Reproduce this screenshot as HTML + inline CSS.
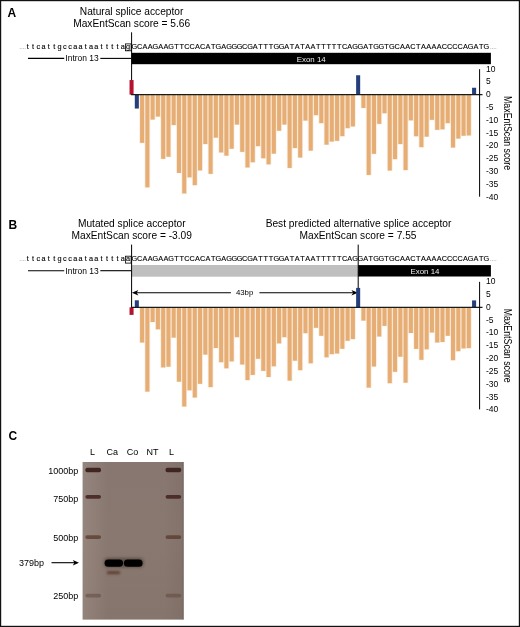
<!DOCTYPE html>
<html><head><meta charset="utf-8"><title>Figure</title>
<style>
html,body{margin:0;padding:0;background:#fff;}
body{width:520px;height:627px;overflow:hidden;position:relative;font-family:"Liberation Sans",sans-serif;}
</style></head><body>
<svg width="520" height="627" viewBox="0 0 520 627" style="position:absolute;left:0;top:0;opacity:0.999">
<rect x="0" y="0" width="520" height="627" fill="#fff"/>
<text x="19.2" y="49.15" font-size="6.2" fill="#555" font-family="Liberation Sans, sans-serif">....</text>
<text x="27.79" y="49.15" font-size="7.3" text-anchor="middle" stroke="#000" stroke-width="0.12" font-family="Liberation Sans, sans-serif">t</text>
<text x="33.07" y="49.15" font-size="7.3" text-anchor="middle" stroke="#000" stroke-width="0.12" font-family="Liberation Sans, sans-serif">t</text>
<text x="38.34" y="49.15" font-size="7.3" text-anchor="middle" stroke="#000" stroke-width="0.12" font-family="Liberation Sans, sans-serif">c</text>
<text x="43.62" y="49.15" font-size="7.3" text-anchor="middle" stroke="#000" stroke-width="0.12" font-family="Liberation Sans, sans-serif">a</text>
<text x="48.89" y="49.15" font-size="7.3" text-anchor="middle" stroke="#000" stroke-width="0.12" font-family="Liberation Sans, sans-serif">t</text>
<text x="54.16" y="49.15" font-size="7.3" text-anchor="middle" stroke="#000" stroke-width="0.12" font-family="Liberation Sans, sans-serif">t</text>
<text x="59.44" y="49.15" font-size="7.3" text-anchor="middle" stroke="#000" stroke-width="0.12" font-family="Liberation Sans, sans-serif">g</text>
<text x="64.71" y="49.15" font-size="7.3" text-anchor="middle" stroke="#000" stroke-width="0.12" font-family="Liberation Sans, sans-serif">c</text>
<text x="69.99" y="49.15" font-size="7.3" text-anchor="middle" stroke="#000" stroke-width="0.12" font-family="Liberation Sans, sans-serif">c</text>
<text x="75.26" y="49.15" font-size="7.3" text-anchor="middle" stroke="#000" stroke-width="0.12" font-family="Liberation Sans, sans-serif">a</text>
<text x="80.53" y="49.15" font-size="7.3" text-anchor="middle" stroke="#000" stroke-width="0.12" font-family="Liberation Sans, sans-serif">a</text>
<text x="85.81" y="49.15" font-size="7.3" text-anchor="middle" stroke="#000" stroke-width="0.12" font-family="Liberation Sans, sans-serif">t</text>
<text x="91.08" y="49.15" font-size="7.3" text-anchor="middle" stroke="#000" stroke-width="0.12" font-family="Liberation Sans, sans-serif">a</text>
<text x="96.36" y="49.15" font-size="7.3" text-anchor="middle" stroke="#000" stroke-width="0.12" font-family="Liberation Sans, sans-serif">a</text>
<text x="101.63" y="49.15" font-size="7.3" text-anchor="middle" stroke="#000" stroke-width="0.12" font-family="Liberation Sans, sans-serif">t</text>
<text x="106.90" y="49.15" font-size="7.3" text-anchor="middle" stroke="#000" stroke-width="0.12" font-family="Liberation Sans, sans-serif">t</text>
<text x="112.18" y="49.15" font-size="7.3" text-anchor="middle" stroke="#000" stroke-width="0.12" font-family="Liberation Sans, sans-serif">t</text>
<text x="117.45" y="49.15" font-size="7.3" text-anchor="middle" stroke="#000" stroke-width="0.12" font-family="Liberation Sans, sans-serif">t</text>
<text x="122.73" y="49.15" font-size="7.3" text-anchor="middle" stroke="#000" stroke-width="0.12" font-family="Liberation Sans, sans-serif">a</text>
<text x="128.00" y="49.15" font-size="7.3" text-anchor="middle" stroke="#000" stroke-width="0.12" font-family="Liberation Sans, sans-serif">g</text>
<text x="134.40" y="49.15" font-size="7.3" text-anchor="middle" stroke="#000" stroke-width="0.12" font-family="Liberation Sans, sans-serif">G</text>
<text x="139.65" y="49.15" font-size="7.3" text-anchor="middle" stroke="#000" stroke-width="0.12" font-family="Liberation Sans, sans-serif">C</text>
<text x="144.91" y="49.15" font-size="7.3" text-anchor="middle" stroke="#000" stroke-width="0.12" font-family="Liberation Sans, sans-serif">A</text>
<text x="150.16" y="49.15" font-size="7.3" text-anchor="middle" stroke="#000" stroke-width="0.12" font-family="Liberation Sans, sans-serif">A</text>
<text x="155.42" y="49.15" font-size="7.3" text-anchor="middle" stroke="#000" stroke-width="0.12" font-family="Liberation Sans, sans-serif">G</text>
<text x="160.67" y="49.15" font-size="7.3" text-anchor="middle" stroke="#000" stroke-width="0.12" font-family="Liberation Sans, sans-serif">A</text>
<text x="165.92" y="49.15" font-size="7.3" text-anchor="middle" stroke="#000" stroke-width="0.12" font-family="Liberation Sans, sans-serif">A</text>
<text x="171.18" y="49.15" font-size="7.3" text-anchor="middle" stroke="#000" stroke-width="0.12" font-family="Liberation Sans, sans-serif">G</text>
<text x="176.43" y="49.15" font-size="7.3" text-anchor="middle" stroke="#000" stroke-width="0.12" font-family="Liberation Sans, sans-serif">T</text>
<text x="181.69" y="49.15" font-size="7.3" text-anchor="middle" stroke="#000" stroke-width="0.12" font-family="Liberation Sans, sans-serif">T</text>
<text x="186.94" y="49.15" font-size="7.3" text-anchor="middle" stroke="#000" stroke-width="0.12" font-family="Liberation Sans, sans-serif">C</text>
<text x="192.19" y="49.15" font-size="7.3" text-anchor="middle" stroke="#000" stroke-width="0.12" font-family="Liberation Sans, sans-serif">C</text>
<text x="197.45" y="49.15" font-size="7.3" text-anchor="middle" stroke="#000" stroke-width="0.12" font-family="Liberation Sans, sans-serif">A</text>
<text x="202.70" y="49.15" font-size="7.3" text-anchor="middle" stroke="#000" stroke-width="0.12" font-family="Liberation Sans, sans-serif">C</text>
<text x="207.96" y="49.15" font-size="7.3" text-anchor="middle" stroke="#000" stroke-width="0.12" font-family="Liberation Sans, sans-serif">A</text>
<text x="213.21" y="49.15" font-size="7.3" text-anchor="middle" stroke="#000" stroke-width="0.12" font-family="Liberation Sans, sans-serif">T</text>
<text x="218.46" y="49.15" font-size="7.3" text-anchor="middle" stroke="#000" stroke-width="0.12" font-family="Liberation Sans, sans-serif">G</text>
<text x="223.72" y="49.15" font-size="7.3" text-anchor="middle" stroke="#000" stroke-width="0.12" font-family="Liberation Sans, sans-serif">A</text>
<text x="228.97" y="49.15" font-size="7.3" text-anchor="middle" stroke="#000" stroke-width="0.12" font-family="Liberation Sans, sans-serif">G</text>
<text x="234.23" y="49.15" font-size="7.3" text-anchor="middle" stroke="#000" stroke-width="0.12" font-family="Liberation Sans, sans-serif">G</text>
<text x="239.48" y="49.15" font-size="7.3" text-anchor="middle" stroke="#000" stroke-width="0.12" font-family="Liberation Sans, sans-serif">G</text>
<text x="244.73" y="49.15" font-size="7.3" text-anchor="middle" stroke="#000" stroke-width="0.12" font-family="Liberation Sans, sans-serif">C</text>
<text x="249.99" y="49.15" font-size="7.3" text-anchor="middle" stroke="#000" stroke-width="0.12" font-family="Liberation Sans, sans-serif">G</text>
<text x="255.24" y="49.15" font-size="7.3" text-anchor="middle" stroke="#000" stroke-width="0.12" font-family="Liberation Sans, sans-serif">A</text>
<text x="260.50" y="49.15" font-size="7.3" text-anchor="middle" stroke="#000" stroke-width="0.12" font-family="Liberation Sans, sans-serif">T</text>
<text x="265.75" y="49.15" font-size="7.3" text-anchor="middle" stroke="#000" stroke-width="0.12" font-family="Liberation Sans, sans-serif">T</text>
<text x="271.00" y="49.15" font-size="7.3" text-anchor="middle" stroke="#000" stroke-width="0.12" font-family="Liberation Sans, sans-serif">T</text>
<text x="276.26" y="49.15" font-size="7.3" text-anchor="middle" stroke="#000" stroke-width="0.12" font-family="Liberation Sans, sans-serif">G</text>
<text x="281.51" y="49.15" font-size="7.3" text-anchor="middle" stroke="#000" stroke-width="0.12" font-family="Liberation Sans, sans-serif">G</text>
<text x="286.77" y="49.15" font-size="7.3" text-anchor="middle" stroke="#000" stroke-width="0.12" font-family="Liberation Sans, sans-serif">A</text>
<text x="292.02" y="49.15" font-size="7.3" text-anchor="middle" stroke="#000" stroke-width="0.12" font-family="Liberation Sans, sans-serif">T</text>
<text x="297.27" y="49.15" font-size="7.3" text-anchor="middle" stroke="#000" stroke-width="0.12" font-family="Liberation Sans, sans-serif">A</text>
<text x="302.53" y="49.15" font-size="7.3" text-anchor="middle" stroke="#000" stroke-width="0.12" font-family="Liberation Sans, sans-serif">T</text>
<text x="307.78" y="49.15" font-size="7.3" text-anchor="middle" stroke="#000" stroke-width="0.12" font-family="Liberation Sans, sans-serif">A</text>
<text x="313.04" y="49.15" font-size="7.3" text-anchor="middle" stroke="#000" stroke-width="0.12" font-family="Liberation Sans, sans-serif">A</text>
<text x="318.29" y="49.15" font-size="7.3" text-anchor="middle" stroke="#000" stroke-width="0.12" font-family="Liberation Sans, sans-serif">T</text>
<text x="323.54" y="49.15" font-size="7.3" text-anchor="middle" stroke="#000" stroke-width="0.12" font-family="Liberation Sans, sans-serif">T</text>
<text x="328.80" y="49.15" font-size="7.3" text-anchor="middle" stroke="#000" stroke-width="0.12" font-family="Liberation Sans, sans-serif">T</text>
<text x="334.05" y="49.15" font-size="7.3" text-anchor="middle" stroke="#000" stroke-width="0.12" font-family="Liberation Sans, sans-serif">T</text>
<text x="339.31" y="49.15" font-size="7.3" text-anchor="middle" stroke="#000" stroke-width="0.12" font-family="Liberation Sans, sans-serif">T</text>
<text x="344.56" y="49.15" font-size="7.3" text-anchor="middle" stroke="#000" stroke-width="0.12" font-family="Liberation Sans, sans-serif">C</text>
<text x="349.81" y="49.15" font-size="7.3" text-anchor="middle" stroke="#000" stroke-width="0.12" font-family="Liberation Sans, sans-serif">A</text>
<text x="355.07" y="49.15" font-size="7.3" text-anchor="middle" stroke="#000" stroke-width="0.12" font-family="Liberation Sans, sans-serif">G</text>
<text x="360.32" y="49.15" font-size="7.3" text-anchor="middle" stroke="#000" stroke-width="0.12" font-family="Liberation Sans, sans-serif">G</text>
<text x="365.58" y="49.15" font-size="7.3" text-anchor="middle" stroke="#000" stroke-width="0.12" font-family="Liberation Sans, sans-serif">A</text>
<text x="370.83" y="49.15" font-size="7.3" text-anchor="middle" stroke="#000" stroke-width="0.12" font-family="Liberation Sans, sans-serif">T</text>
<text x="376.08" y="49.15" font-size="7.3" text-anchor="middle" stroke="#000" stroke-width="0.12" font-family="Liberation Sans, sans-serif">G</text>
<text x="381.34" y="49.15" font-size="7.3" text-anchor="middle" stroke="#000" stroke-width="0.12" font-family="Liberation Sans, sans-serif">G</text>
<text x="386.59" y="49.15" font-size="7.3" text-anchor="middle" stroke="#000" stroke-width="0.12" font-family="Liberation Sans, sans-serif">T</text>
<text x="391.85" y="49.15" font-size="7.3" text-anchor="middle" stroke="#000" stroke-width="0.12" font-family="Liberation Sans, sans-serif">G</text>
<text x="397.10" y="49.15" font-size="7.3" text-anchor="middle" stroke="#000" stroke-width="0.12" font-family="Liberation Sans, sans-serif">C</text>
<text x="402.35" y="49.15" font-size="7.3" text-anchor="middle" stroke="#000" stroke-width="0.12" font-family="Liberation Sans, sans-serif">A</text>
<text x="407.61" y="49.15" font-size="7.3" text-anchor="middle" stroke="#000" stroke-width="0.12" font-family="Liberation Sans, sans-serif">A</text>
<text x="412.86" y="49.15" font-size="7.3" text-anchor="middle" stroke="#000" stroke-width="0.12" font-family="Liberation Sans, sans-serif">C</text>
<text x="418.12" y="49.15" font-size="7.3" text-anchor="middle" stroke="#000" stroke-width="0.12" font-family="Liberation Sans, sans-serif">T</text>
<text x="423.37" y="49.15" font-size="7.3" text-anchor="middle" stroke="#000" stroke-width="0.12" font-family="Liberation Sans, sans-serif">A</text>
<text x="428.62" y="49.15" font-size="7.3" text-anchor="middle" stroke="#000" stroke-width="0.12" font-family="Liberation Sans, sans-serif">A</text>
<text x="433.88" y="49.15" font-size="7.3" text-anchor="middle" stroke="#000" stroke-width="0.12" font-family="Liberation Sans, sans-serif">A</text>
<text x="439.13" y="49.15" font-size="7.3" text-anchor="middle" stroke="#000" stroke-width="0.12" font-family="Liberation Sans, sans-serif">A</text>
<text x="444.39" y="49.15" font-size="7.3" text-anchor="middle" stroke="#000" stroke-width="0.12" font-family="Liberation Sans, sans-serif">C</text>
<text x="449.64" y="49.15" font-size="7.3" text-anchor="middle" stroke="#000" stroke-width="0.12" font-family="Liberation Sans, sans-serif">C</text>
<text x="454.89" y="49.15" font-size="7.3" text-anchor="middle" stroke="#000" stroke-width="0.12" font-family="Liberation Sans, sans-serif">C</text>
<text x="460.15" y="49.15" font-size="7.3" text-anchor="middle" stroke="#000" stroke-width="0.12" font-family="Liberation Sans, sans-serif">C</text>
<text x="465.40" y="49.15" font-size="7.3" text-anchor="middle" stroke="#000" stroke-width="0.12" font-family="Liberation Sans, sans-serif">A</text>
<text x="470.66" y="49.15" font-size="7.3" text-anchor="middle" stroke="#000" stroke-width="0.12" font-family="Liberation Sans, sans-serif">G</text>
<text x="475.91" y="49.15" font-size="7.3" text-anchor="middle" stroke="#000" stroke-width="0.12" font-family="Liberation Sans, sans-serif">A</text>
<text x="481.16" y="49.15" font-size="7.3" text-anchor="middle" stroke="#000" stroke-width="0.12" font-family="Liberation Sans, sans-serif">T</text>
<text x="486.42" y="49.15" font-size="7.3" text-anchor="middle" stroke="#000" stroke-width="0.12" font-family="Liberation Sans, sans-serif">G</text>
<text x="489.9" y="49.15" font-size="6.2" fill="#555" font-family="Liberation Sans, sans-serif">....</text>
<rect x="125.5" y="43.9" width="5.6" height="6.9" fill="none" stroke="#000" stroke-width="0.8"/>
<line x1="28" y1="58.4" x2="64.2" y2="58.4" stroke="#000" stroke-width="1.1"/>
<line x1="100.3" y1="58.4" x2="131.6" y2="58.4" stroke="#000" stroke-width="1.1"/>
<text x="82" y="61.2" font-size="8.45" text-anchor="middle" font-family="Liberation Sans, sans-serif">Intron 13</text>
<rect x="131.6" y="52.8" width="359.3" height="11.4" fill="#000"/>
<text x="311.2" y="62.0" font-size="7.9" fill="#eee" text-anchor="middle" font-family="Liberation Sans, sans-serif">Exon 14</text>
<line x1="131.6" y1="32.3" x2="131.6" y2="94.65" stroke="#000" stroke-width="1"/>
<rect x="139.24" y="94.65" width="5.7" height="48.6" fill="#e6ae74" opacity="0.22"/>
<rect x="144.51" y="94.65" width="5.7" height="93.1" fill="#e6ae74" opacity="0.22"/>
<rect x="149.78" y="94.65" width="5.7" height="25.3" fill="#e6ae74" opacity="0.22"/>
<rect x="155.05" y="94.65" width="5.7" height="22.3" fill="#e6ae74" opacity="0.22"/>
<rect x="160.32" y="94.65" width="5.7" height="64.6" fill="#e6ae74" opacity="0.22"/>
<rect x="165.59" y="94.65" width="5.7" height="62.5" fill="#e6ae74" opacity="0.22"/>
<rect x="170.86" y="94.65" width="5.7" height="30.8" fill="#e6ae74" opacity="0.22"/>
<rect x="176.13" y="94.65" width="5.7" height="78.7" fill="#e6ae74" opacity="0.22"/>
<rect x="181.40" y="94.65" width="5.7" height="99.2" fill="#e6ae74" opacity="0.22"/>
<rect x="186.67" y="94.65" width="5.7" height="83.1" fill="#e6ae74" opacity="0.22"/>
<rect x="191.94" y="94.65" width="5.7" height="90.9" fill="#e6ae74" opacity="0.22"/>
<rect x="197.21" y="94.65" width="5.7" height="76.2" fill="#e6ae74" opacity="0.22"/>
<rect x="202.48" y="94.65" width="5.7" height="49.8" fill="#e6ae74" opacity="0.22"/>
<rect x="207.75" y="94.65" width="5.7" height="79.6" fill="#e6ae74" opacity="0.22"/>
<rect x="213.02" y="94.65" width="5.7" height="43.4" fill="#e6ae74" opacity="0.22"/>
<rect x="218.29" y="94.65" width="5.7" height="58.2" fill="#e6ae74" opacity="0.22"/>
<rect x="223.56" y="94.65" width="5.7" height="61.4" fill="#e6ae74" opacity="0.22"/>
<rect x="228.83" y="94.65" width="5.7" height="54.5" fill="#e6ae74" opacity="0.22"/>
<rect x="234.10" y="94.65" width="5.7" height="30.3" fill="#e6ae74" opacity="0.22"/>
<rect x="239.37" y="94.65" width="5.7" height="57.6" fill="#e6ae74" opacity="0.22"/>
<rect x="244.64" y="94.65" width="5.7" height="73.2" fill="#e6ae74" opacity="0.22"/>
<rect x="249.91" y="94.65" width="5.7" height="68.0" fill="#e6ae74" opacity="0.22"/>
<rect x="255.18" y="94.65" width="5.7" height="51.9" fill="#e6ae74" opacity="0.22"/>
<rect x="260.45" y="94.65" width="5.7" height="64.0" fill="#e6ae74" opacity="0.22"/>
<rect x="265.72" y="94.65" width="5.7" height="70.1" fill="#e6ae74" opacity="0.22"/>
<rect x="270.99" y="94.65" width="5.7" height="59.4" fill="#e6ae74" opacity="0.22"/>
<rect x="276.26" y="94.65" width="5.7" height="36.5" fill="#e6ae74" opacity="0.22"/>
<rect x="281.53" y="94.65" width="5.7" height="30.3" fill="#e6ae74" opacity="0.22"/>
<rect x="286.80" y="94.65" width="5.7" height="73.7" fill="#e6ae74" opacity="0.22"/>
<rect x="292.07" y="94.65" width="5.7" height="53.8" fill="#e6ae74" opacity="0.22"/>
<rect x="297.34" y="94.65" width="5.7" height="63.3" fill="#e6ae74" opacity="0.22"/>
<rect x="302.61" y="94.65" width="5.7" height="26.3" fill="#e6ae74" opacity="0.22"/>
<rect x="307.88" y="94.65" width="5.7" height="56.4" fill="#e6ae74" opacity="0.22"/>
<rect x="313.15" y="94.65" width="5.7" height="20.9" fill="#e6ae74" opacity="0.22"/>
<rect x="318.42" y="94.65" width="5.7" height="28.9" fill="#e6ae74" opacity="0.22"/>
<rect x="323.69" y="94.65" width="5.7" height="50.4" fill="#e6ae74" opacity="0.22"/>
<rect x="328.96" y="94.65" width="5.7" height="47.3" fill="#e6ae74" opacity="0.22"/>
<rect x="334.23" y="94.65" width="5.7" height="46.6" fill="#e6ae74" opacity="0.22"/>
<rect x="339.50" y="94.65" width="5.7" height="41.9" fill="#e6ae74" opacity="0.22"/>
<rect x="344.77" y="94.65" width="5.7" height="33.9" fill="#e6ae74" opacity="0.22"/>
<rect x="350.04" y="94.65" width="5.7" height="32.2" fill="#e6ae74" opacity="0.22"/>
<rect x="360.58" y="94.65" width="5.7" height="13.7" fill="#e6ae74" opacity="0.22"/>
<rect x="365.85" y="94.65" width="5.7" height="80.7" fill="#e6ae74" opacity="0.22"/>
<rect x="371.12" y="94.65" width="5.7" height="59.6" fill="#e6ae74" opacity="0.22"/>
<rect x="376.39" y="94.65" width="5.7" height="29.6" fill="#e6ae74" opacity="0.22"/>
<rect x="381.66" y="94.65" width="5.7" height="19.0" fill="#e6ae74" opacity="0.22"/>
<rect x="386.93" y="94.65" width="5.7" height="76.3" fill="#e6ae74" opacity="0.22"/>
<rect x="392.20" y="94.65" width="5.7" height="64.9" fill="#e6ae74" opacity="0.22"/>
<rect x="397.47" y="94.65" width="5.7" height="49.8" fill="#e6ae74" opacity="0.22"/>
<rect x="402.74" y="94.65" width="5.7" height="75.8" fill="#e6ae74" opacity="0.22"/>
<rect x="408.01" y="94.65" width="5.7" height="26.1" fill="#e6ae74" opacity="0.22"/>
<rect x="413.28" y="94.65" width="5.7" height="42.0" fill="#e6ae74" opacity="0.22"/>
<rect x="418.55" y="94.65" width="5.7" height="52.9" fill="#e6ae74" opacity="0.22"/>
<rect x="423.82" y="94.65" width="5.7" height="42.4" fill="#e6ae74" opacity="0.22"/>
<rect x="429.09" y="94.65" width="5.7" height="25.6" fill="#e6ae74" opacity="0.22"/>
<rect x="434.36" y="94.65" width="5.7" height="35.6" fill="#e6ae74" opacity="0.22"/>
<rect x="439.63" y="94.65" width="5.7" height="35.1" fill="#e6ae74" opacity="0.22"/>
<rect x="444.90" y="94.65" width="5.7" height="28.9" fill="#e6ae74" opacity="0.22"/>
<rect x="450.17" y="94.65" width="5.7" height="53.3" fill="#e6ae74" opacity="0.22"/>
<rect x="455.44" y="94.65" width="5.7" height="44.3" fill="#e6ae74" opacity="0.22"/>
<rect x="460.71" y="94.65" width="5.7" height="41.5" fill="#e6ae74" opacity="0.22"/>
<rect x="465.98" y="94.65" width="5.7" height="41.2" fill="#e6ae74" opacity="0.22"/>
<rect x="140.06" y="94.65" width="4.05" height="48.2" fill="#e6ae74"/>
<rect x="145.34" y="94.65" width="4.05" height="92.7" fill="#e6ae74"/>
<rect x="150.60" y="94.65" width="4.05" height="24.9" fill="#e6ae74"/>
<rect x="155.88" y="94.65" width="4.05" height="21.9" fill="#e6ae74"/>
<rect x="161.15" y="94.65" width="4.05" height="64.2" fill="#e6ae74"/>
<rect x="166.41" y="94.65" width="4.05" height="62.1" fill="#e6ae74"/>
<rect x="171.69" y="94.65" width="4.05" height="30.4" fill="#e6ae74"/>
<rect x="176.96" y="94.65" width="4.05" height="78.3" fill="#e6ae74"/>
<rect x="182.22" y="94.65" width="4.05" height="98.8" fill="#e6ae74"/>
<rect x="187.50" y="94.65" width="4.05" height="82.7" fill="#e6ae74"/>
<rect x="192.77" y="94.65" width="4.05" height="90.5" fill="#e6ae74"/>
<rect x="198.03" y="94.65" width="4.05" height="75.8" fill="#e6ae74"/>
<rect x="203.31" y="94.65" width="4.05" height="49.4" fill="#e6ae74"/>
<rect x="208.58" y="94.65" width="4.05" height="79.2" fill="#e6ae74"/>
<rect x="213.84" y="94.65" width="4.05" height="43.0" fill="#e6ae74"/>
<rect x="219.11" y="94.65" width="4.05" height="57.8" fill="#e6ae74"/>
<rect x="224.38" y="94.65" width="4.05" height="61.0" fill="#e6ae74"/>
<rect x="229.66" y="94.65" width="4.05" height="54.1" fill="#e6ae74"/>
<rect x="234.92" y="94.65" width="4.05" height="29.9" fill="#e6ae74"/>
<rect x="240.19" y="94.65" width="4.05" height="57.2" fill="#e6ae74"/>
<rect x="245.47" y="94.65" width="4.05" height="72.8" fill="#e6ae74"/>
<rect x="250.73" y="94.65" width="4.05" height="67.6" fill="#e6ae74"/>
<rect x="256.00" y="94.65" width="4.05" height="51.5" fill="#e6ae74"/>
<rect x="261.28" y="94.65" width="4.05" height="63.6" fill="#e6ae74"/>
<rect x="266.55" y="94.65" width="4.05" height="69.7" fill="#e6ae74"/>
<rect x="271.82" y="94.65" width="4.05" height="59.0" fill="#e6ae74"/>
<rect x="277.09" y="94.65" width="4.05" height="36.1" fill="#e6ae74"/>
<rect x="282.36" y="94.65" width="4.05" height="29.9" fill="#e6ae74"/>
<rect x="287.62" y="94.65" width="4.05" height="73.3" fill="#e6ae74"/>
<rect x="292.89" y="94.65" width="4.05" height="53.4" fill="#e6ae74"/>
<rect x="298.17" y="94.65" width="4.05" height="62.9" fill="#e6ae74"/>
<rect x="303.44" y="94.65" width="4.05" height="25.9" fill="#e6ae74"/>
<rect x="308.71" y="94.65" width="4.05" height="56.0" fill="#e6ae74"/>
<rect x="313.98" y="94.65" width="4.05" height="20.5" fill="#e6ae74"/>
<rect x="319.25" y="94.65" width="4.05" height="28.5" fill="#e6ae74"/>
<rect x="324.51" y="94.65" width="4.05" height="50.0" fill="#e6ae74"/>
<rect x="329.79" y="94.65" width="4.05" height="46.9" fill="#e6ae74"/>
<rect x="335.06" y="94.65" width="4.05" height="46.2" fill="#e6ae74"/>
<rect x="340.33" y="94.65" width="4.05" height="41.5" fill="#e6ae74"/>
<rect x="345.60" y="94.65" width="4.05" height="33.5" fill="#e6ae74"/>
<rect x="350.87" y="94.65" width="4.05" height="31.8" fill="#e6ae74"/>
<rect x="361.41" y="94.65" width="4.05" height="13.3" fill="#e6ae74"/>
<rect x="366.68" y="94.65" width="4.05" height="80.3" fill="#e6ae74"/>
<rect x="371.95" y="94.65" width="4.05" height="59.2" fill="#e6ae74"/>
<rect x="377.22" y="94.65" width="4.05" height="29.2" fill="#e6ae74"/>
<rect x="382.49" y="94.65" width="4.05" height="18.6" fill="#e6ae74"/>
<rect x="387.75" y="94.65" width="4.05" height="75.9" fill="#e6ae74"/>
<rect x="393.03" y="94.65" width="4.05" height="64.5" fill="#e6ae74"/>
<rect x="398.30" y="94.65" width="4.05" height="49.4" fill="#e6ae74"/>
<rect x="403.56" y="94.65" width="4.05" height="75.4" fill="#e6ae74"/>
<rect x="408.84" y="94.65" width="4.05" height="25.7" fill="#e6ae74"/>
<rect x="414.11" y="94.65" width="4.05" height="41.6" fill="#e6ae74"/>
<rect x="419.38" y="94.65" width="4.05" height="52.5" fill="#e6ae74"/>
<rect x="424.65" y="94.65" width="4.05" height="42.0" fill="#e6ae74"/>
<rect x="429.92" y="94.65" width="4.05" height="25.2" fill="#e6ae74"/>
<rect x="435.19" y="94.65" width="4.05" height="35.2" fill="#e6ae74"/>
<rect x="440.45" y="94.65" width="4.05" height="34.7" fill="#e6ae74"/>
<rect x="445.73" y="94.65" width="4.05" height="28.5" fill="#e6ae74"/>
<rect x="451.00" y="94.65" width="4.05" height="52.9" fill="#e6ae74"/>
<rect x="456.26" y="94.65" width="4.05" height="43.9" fill="#e6ae74"/>
<rect x="461.54" y="94.65" width="4.05" height="41.1" fill="#e6ae74"/>
<rect x="466.81" y="94.65" width="4.05" height="40.8" fill="#e6ae74"/>
<rect x="129.53" y="80.05" width="4.05" height="14.60" fill="#b5122f"/>
<rect x="134.80" y="94.65" width="4.05" height="13.90" fill="#253f7c"/>
<rect x="356.13" y="75.25" width="4.05" height="19.40" fill="#253f7c"/>
<rect x="472.07" y="87.75" width="4.05" height="6.90" fill="#253f7c"/>
<line x1="131.1" y1="94.65" x2="482.5" y2="94.65" stroke="#1a1a1a" stroke-width="1.15"/>
<line x1="479.6" y1="69.2" x2="479.6" y2="196.7" stroke="#000" stroke-width="1"/>
<text x="486" y="71.58" font-size="8.5" font-family="Liberation Sans, sans-serif">10</text>
<text x="486" y="84.39" font-size="8.5" font-family="Liberation Sans, sans-serif">5</text>
<text x="486" y="97.20" font-size="8.5" font-family="Liberation Sans, sans-serif">0</text>
<text x="486" y="110.01" font-size="8.5" font-family="Liberation Sans, sans-serif">-5</text>
<text x="486" y="122.83" font-size="8.5" font-family="Liberation Sans, sans-serif">-10</text>
<text x="486" y="135.64" font-size="8.5" font-family="Liberation Sans, sans-serif">-15</text>
<text x="486" y="148.45" font-size="8.5" font-family="Liberation Sans, sans-serif">-20</text>
<text x="486" y="161.26" font-size="8.5" font-family="Liberation Sans, sans-serif">-25</text>
<text x="486" y="174.07" font-size="8.5" font-family="Liberation Sans, sans-serif">-30</text>
<text x="486" y="186.89" font-size="8.5" font-family="Liberation Sans, sans-serif">-35</text>
<text x="486" y="199.70" font-size="8.5" font-family="Liberation Sans, sans-serif">-40</text>
<text transform="translate(504.35,96.0) rotate(90)" font-size="10.4" textLength="74.1" lengthAdjust="spacingAndGlyphs" font-family="Liberation Sans, sans-serif">MaxEntScan score</text>
<text x="19.2" y="261.45" font-size="6.2" fill="#555" font-family="Liberation Sans, sans-serif">....</text>
<text x="27.79" y="261.45" font-size="7.3" text-anchor="middle" stroke="#000" stroke-width="0.12" font-family="Liberation Sans, sans-serif">t</text>
<text x="33.07" y="261.45" font-size="7.3" text-anchor="middle" stroke="#000" stroke-width="0.12" font-family="Liberation Sans, sans-serif">t</text>
<text x="38.34" y="261.45" font-size="7.3" text-anchor="middle" stroke="#000" stroke-width="0.12" font-family="Liberation Sans, sans-serif">c</text>
<text x="43.62" y="261.45" font-size="7.3" text-anchor="middle" stroke="#000" stroke-width="0.12" font-family="Liberation Sans, sans-serif">a</text>
<text x="48.89" y="261.45" font-size="7.3" text-anchor="middle" stroke="#000" stroke-width="0.12" font-family="Liberation Sans, sans-serif">t</text>
<text x="54.16" y="261.45" font-size="7.3" text-anchor="middle" stroke="#000" stroke-width="0.12" font-family="Liberation Sans, sans-serif">t</text>
<text x="59.44" y="261.45" font-size="7.3" text-anchor="middle" stroke="#000" stroke-width="0.12" font-family="Liberation Sans, sans-serif">g</text>
<text x="64.71" y="261.45" font-size="7.3" text-anchor="middle" stroke="#000" stroke-width="0.12" font-family="Liberation Sans, sans-serif">c</text>
<text x="69.99" y="261.45" font-size="7.3" text-anchor="middle" stroke="#000" stroke-width="0.12" font-family="Liberation Sans, sans-serif">c</text>
<text x="75.26" y="261.45" font-size="7.3" text-anchor="middle" stroke="#000" stroke-width="0.12" font-family="Liberation Sans, sans-serif">a</text>
<text x="80.53" y="261.45" font-size="7.3" text-anchor="middle" stroke="#000" stroke-width="0.12" font-family="Liberation Sans, sans-serif">a</text>
<text x="85.81" y="261.45" font-size="7.3" text-anchor="middle" stroke="#000" stroke-width="0.12" font-family="Liberation Sans, sans-serif">t</text>
<text x="91.08" y="261.45" font-size="7.3" text-anchor="middle" stroke="#000" stroke-width="0.12" font-family="Liberation Sans, sans-serif">a</text>
<text x="96.36" y="261.45" font-size="7.3" text-anchor="middle" stroke="#000" stroke-width="0.12" font-family="Liberation Sans, sans-serif">a</text>
<text x="101.63" y="261.45" font-size="7.3" text-anchor="middle" stroke="#000" stroke-width="0.12" font-family="Liberation Sans, sans-serif">t</text>
<text x="106.90" y="261.45" font-size="7.3" text-anchor="middle" stroke="#000" stroke-width="0.12" font-family="Liberation Sans, sans-serif">t</text>
<text x="112.18" y="261.45" font-size="7.3" text-anchor="middle" stroke="#000" stroke-width="0.12" font-family="Liberation Sans, sans-serif">t</text>
<text x="117.45" y="261.45" font-size="7.3" text-anchor="middle" stroke="#000" stroke-width="0.12" font-family="Liberation Sans, sans-serif">t</text>
<text x="122.73" y="261.45" font-size="7.3" text-anchor="middle" stroke="#000" stroke-width="0.12" font-family="Liberation Sans, sans-serif">a</text>
<text x="128.00" y="261.45" font-size="7.3" text-anchor="middle" stroke="#000" stroke-width="0.12" font-family="Liberation Sans, sans-serif">a</text>
<text x="134.40" y="261.45" font-size="7.3" text-anchor="middle" stroke="#000" stroke-width="0.12" font-family="Liberation Sans, sans-serif">G</text>
<text x="139.65" y="261.45" font-size="7.3" text-anchor="middle" stroke="#000" stroke-width="0.12" font-family="Liberation Sans, sans-serif">C</text>
<text x="144.91" y="261.45" font-size="7.3" text-anchor="middle" stroke="#000" stroke-width="0.12" font-family="Liberation Sans, sans-serif">A</text>
<text x="150.16" y="261.45" font-size="7.3" text-anchor="middle" stroke="#000" stroke-width="0.12" font-family="Liberation Sans, sans-serif">A</text>
<text x="155.42" y="261.45" font-size="7.3" text-anchor="middle" stroke="#000" stroke-width="0.12" font-family="Liberation Sans, sans-serif">G</text>
<text x="160.67" y="261.45" font-size="7.3" text-anchor="middle" stroke="#000" stroke-width="0.12" font-family="Liberation Sans, sans-serif">A</text>
<text x="165.92" y="261.45" font-size="7.3" text-anchor="middle" stroke="#000" stroke-width="0.12" font-family="Liberation Sans, sans-serif">A</text>
<text x="171.18" y="261.45" font-size="7.3" text-anchor="middle" stroke="#000" stroke-width="0.12" font-family="Liberation Sans, sans-serif">G</text>
<text x="176.43" y="261.45" font-size="7.3" text-anchor="middle" stroke="#000" stroke-width="0.12" font-family="Liberation Sans, sans-serif">T</text>
<text x="181.69" y="261.45" font-size="7.3" text-anchor="middle" stroke="#000" stroke-width="0.12" font-family="Liberation Sans, sans-serif">T</text>
<text x="186.94" y="261.45" font-size="7.3" text-anchor="middle" stroke="#000" stroke-width="0.12" font-family="Liberation Sans, sans-serif">C</text>
<text x="192.19" y="261.45" font-size="7.3" text-anchor="middle" stroke="#000" stroke-width="0.12" font-family="Liberation Sans, sans-serif">C</text>
<text x="197.45" y="261.45" font-size="7.3" text-anchor="middle" stroke="#000" stroke-width="0.12" font-family="Liberation Sans, sans-serif">A</text>
<text x="202.70" y="261.45" font-size="7.3" text-anchor="middle" stroke="#000" stroke-width="0.12" font-family="Liberation Sans, sans-serif">C</text>
<text x="207.96" y="261.45" font-size="7.3" text-anchor="middle" stroke="#000" stroke-width="0.12" font-family="Liberation Sans, sans-serif">A</text>
<text x="213.21" y="261.45" font-size="7.3" text-anchor="middle" stroke="#000" stroke-width="0.12" font-family="Liberation Sans, sans-serif">T</text>
<text x="218.46" y="261.45" font-size="7.3" text-anchor="middle" stroke="#000" stroke-width="0.12" font-family="Liberation Sans, sans-serif">G</text>
<text x="223.72" y="261.45" font-size="7.3" text-anchor="middle" stroke="#000" stroke-width="0.12" font-family="Liberation Sans, sans-serif">A</text>
<text x="228.97" y="261.45" font-size="7.3" text-anchor="middle" stroke="#000" stroke-width="0.12" font-family="Liberation Sans, sans-serif">G</text>
<text x="234.23" y="261.45" font-size="7.3" text-anchor="middle" stroke="#000" stroke-width="0.12" font-family="Liberation Sans, sans-serif">G</text>
<text x="239.48" y="261.45" font-size="7.3" text-anchor="middle" stroke="#000" stroke-width="0.12" font-family="Liberation Sans, sans-serif">G</text>
<text x="244.73" y="261.45" font-size="7.3" text-anchor="middle" stroke="#000" stroke-width="0.12" font-family="Liberation Sans, sans-serif">C</text>
<text x="249.99" y="261.45" font-size="7.3" text-anchor="middle" stroke="#000" stroke-width="0.12" font-family="Liberation Sans, sans-serif">G</text>
<text x="255.24" y="261.45" font-size="7.3" text-anchor="middle" stroke="#000" stroke-width="0.12" font-family="Liberation Sans, sans-serif">A</text>
<text x="260.50" y="261.45" font-size="7.3" text-anchor="middle" stroke="#000" stroke-width="0.12" font-family="Liberation Sans, sans-serif">T</text>
<text x="265.75" y="261.45" font-size="7.3" text-anchor="middle" stroke="#000" stroke-width="0.12" font-family="Liberation Sans, sans-serif">T</text>
<text x="271.00" y="261.45" font-size="7.3" text-anchor="middle" stroke="#000" stroke-width="0.12" font-family="Liberation Sans, sans-serif">T</text>
<text x="276.26" y="261.45" font-size="7.3" text-anchor="middle" stroke="#000" stroke-width="0.12" font-family="Liberation Sans, sans-serif">G</text>
<text x="281.51" y="261.45" font-size="7.3" text-anchor="middle" stroke="#000" stroke-width="0.12" font-family="Liberation Sans, sans-serif">G</text>
<text x="286.77" y="261.45" font-size="7.3" text-anchor="middle" stroke="#000" stroke-width="0.12" font-family="Liberation Sans, sans-serif">A</text>
<text x="292.02" y="261.45" font-size="7.3" text-anchor="middle" stroke="#000" stroke-width="0.12" font-family="Liberation Sans, sans-serif">T</text>
<text x="297.27" y="261.45" font-size="7.3" text-anchor="middle" stroke="#000" stroke-width="0.12" font-family="Liberation Sans, sans-serif">A</text>
<text x="302.53" y="261.45" font-size="7.3" text-anchor="middle" stroke="#000" stroke-width="0.12" font-family="Liberation Sans, sans-serif">T</text>
<text x="307.78" y="261.45" font-size="7.3" text-anchor="middle" stroke="#000" stroke-width="0.12" font-family="Liberation Sans, sans-serif">A</text>
<text x="313.04" y="261.45" font-size="7.3" text-anchor="middle" stroke="#000" stroke-width="0.12" font-family="Liberation Sans, sans-serif">A</text>
<text x="318.29" y="261.45" font-size="7.3" text-anchor="middle" stroke="#000" stroke-width="0.12" font-family="Liberation Sans, sans-serif">T</text>
<text x="323.54" y="261.45" font-size="7.3" text-anchor="middle" stroke="#000" stroke-width="0.12" font-family="Liberation Sans, sans-serif">T</text>
<text x="328.80" y="261.45" font-size="7.3" text-anchor="middle" stroke="#000" stroke-width="0.12" font-family="Liberation Sans, sans-serif">T</text>
<text x="334.05" y="261.45" font-size="7.3" text-anchor="middle" stroke="#000" stroke-width="0.12" font-family="Liberation Sans, sans-serif">T</text>
<text x="339.31" y="261.45" font-size="7.3" text-anchor="middle" stroke="#000" stroke-width="0.12" font-family="Liberation Sans, sans-serif">T</text>
<text x="344.56" y="261.45" font-size="7.3" text-anchor="middle" stroke="#000" stroke-width="0.12" font-family="Liberation Sans, sans-serif">C</text>
<text x="349.81" y="261.45" font-size="7.3" text-anchor="middle" stroke="#000" stroke-width="0.12" font-family="Liberation Sans, sans-serif">A</text>
<text x="355.07" y="261.45" font-size="7.3" text-anchor="middle" stroke="#000" stroke-width="0.12" font-family="Liberation Sans, sans-serif">G</text>
<text x="360.32" y="261.45" font-size="7.3" text-anchor="middle" stroke="#000" stroke-width="0.12" font-family="Liberation Sans, sans-serif">G</text>
<text x="365.58" y="261.45" font-size="7.3" text-anchor="middle" stroke="#000" stroke-width="0.12" font-family="Liberation Sans, sans-serif">A</text>
<text x="370.83" y="261.45" font-size="7.3" text-anchor="middle" stroke="#000" stroke-width="0.12" font-family="Liberation Sans, sans-serif">T</text>
<text x="376.08" y="261.45" font-size="7.3" text-anchor="middle" stroke="#000" stroke-width="0.12" font-family="Liberation Sans, sans-serif">G</text>
<text x="381.34" y="261.45" font-size="7.3" text-anchor="middle" stroke="#000" stroke-width="0.12" font-family="Liberation Sans, sans-serif">G</text>
<text x="386.59" y="261.45" font-size="7.3" text-anchor="middle" stroke="#000" stroke-width="0.12" font-family="Liberation Sans, sans-serif">T</text>
<text x="391.85" y="261.45" font-size="7.3" text-anchor="middle" stroke="#000" stroke-width="0.12" font-family="Liberation Sans, sans-serif">G</text>
<text x="397.10" y="261.45" font-size="7.3" text-anchor="middle" stroke="#000" stroke-width="0.12" font-family="Liberation Sans, sans-serif">C</text>
<text x="402.35" y="261.45" font-size="7.3" text-anchor="middle" stroke="#000" stroke-width="0.12" font-family="Liberation Sans, sans-serif">A</text>
<text x="407.61" y="261.45" font-size="7.3" text-anchor="middle" stroke="#000" stroke-width="0.12" font-family="Liberation Sans, sans-serif">A</text>
<text x="412.86" y="261.45" font-size="7.3" text-anchor="middle" stroke="#000" stroke-width="0.12" font-family="Liberation Sans, sans-serif">C</text>
<text x="418.12" y="261.45" font-size="7.3" text-anchor="middle" stroke="#000" stroke-width="0.12" font-family="Liberation Sans, sans-serif">T</text>
<text x="423.37" y="261.45" font-size="7.3" text-anchor="middle" stroke="#000" stroke-width="0.12" font-family="Liberation Sans, sans-serif">A</text>
<text x="428.62" y="261.45" font-size="7.3" text-anchor="middle" stroke="#000" stroke-width="0.12" font-family="Liberation Sans, sans-serif">A</text>
<text x="433.88" y="261.45" font-size="7.3" text-anchor="middle" stroke="#000" stroke-width="0.12" font-family="Liberation Sans, sans-serif">A</text>
<text x="439.13" y="261.45" font-size="7.3" text-anchor="middle" stroke="#000" stroke-width="0.12" font-family="Liberation Sans, sans-serif">A</text>
<text x="444.39" y="261.45" font-size="7.3" text-anchor="middle" stroke="#000" stroke-width="0.12" font-family="Liberation Sans, sans-serif">C</text>
<text x="449.64" y="261.45" font-size="7.3" text-anchor="middle" stroke="#000" stroke-width="0.12" font-family="Liberation Sans, sans-serif">C</text>
<text x="454.89" y="261.45" font-size="7.3" text-anchor="middle" stroke="#000" stroke-width="0.12" font-family="Liberation Sans, sans-serif">C</text>
<text x="460.15" y="261.45" font-size="7.3" text-anchor="middle" stroke="#000" stroke-width="0.12" font-family="Liberation Sans, sans-serif">C</text>
<text x="465.40" y="261.45" font-size="7.3" text-anchor="middle" stroke="#000" stroke-width="0.12" font-family="Liberation Sans, sans-serif">A</text>
<text x="470.66" y="261.45" font-size="7.3" text-anchor="middle" stroke="#000" stroke-width="0.12" font-family="Liberation Sans, sans-serif">G</text>
<text x="475.91" y="261.45" font-size="7.3" text-anchor="middle" stroke="#000" stroke-width="0.12" font-family="Liberation Sans, sans-serif">A</text>
<text x="481.16" y="261.45" font-size="7.3" text-anchor="middle" stroke="#000" stroke-width="0.12" font-family="Liberation Sans, sans-serif">T</text>
<text x="486.42" y="261.45" font-size="7.3" text-anchor="middle" stroke="#000" stroke-width="0.12" font-family="Liberation Sans, sans-serif">G</text>
<text x="489.9" y="261.45" font-size="6.2" fill="#555" font-family="Liberation Sans, sans-serif">....</text>
<rect x="125.5" y="256.2" width="5.6" height="6.9" fill="none" stroke="#000" stroke-width="0.8"/>
<line x1="28" y1="270.7" x2="64.2" y2="270.7" stroke="#000" stroke-width="1.1"/>
<line x1="100.3" y1="270.7" x2="131.6" y2="270.7" stroke="#000" stroke-width="1.1"/>
<text x="82" y="273.5" font-size="8.45" text-anchor="middle" font-family="Liberation Sans, sans-serif">Intron 13</text>
<rect x="131.6" y="265.0" width="226.6" height="11.7" fill="#bfbfbf"/>
<rect x="358.2" y="265.1" width="132.7" height="11.4" fill="#000"/>
<text x="425" y="274.3" font-size="7.9" fill="#eee" text-anchor="middle" font-family="Liberation Sans, sans-serif">Exon 14</text>
<line x1="131.6" y1="244.60000000000002" x2="131.6" y2="307.3" stroke="#000" stroke-width="1"/>
<line x1="358.2" y1="244.60000000000002" x2="358.2" y2="307.3" stroke="#000" stroke-width="1"/>
<line x1="135" y1="292.75" x2="355" y2="292.75" stroke="#000" stroke-width="1.1"/>
<path d="M131.9,292.75 L138.4,290.05 L136.6,292.75 L138.4,295.45 Z" fill="#000"/>
<path d="M357.9,292.75 L351.4,290.05 L353.2,292.75 L351.4,295.45 Z" fill="#000"/>
<rect x="230.9" y="287.75" width="28.5" height="10" fill="#fff"/>
<text x="244.6" y="295.25" font-size="7.8" text-anchor="middle" font-family="Liberation Sans, sans-serif">43bp</text>
<rect x="139.24" y="307.3" width="5.7" height="35.6" fill="#e6ae74" opacity="0.22"/>
<rect x="144.51" y="307.3" width="5.7" height="84.7" fill="#e6ae74" opacity="0.22"/>
<rect x="149.78" y="307.3" width="5.7" height="15.1" fill="#e6ae74" opacity="0.22"/>
<rect x="155.05" y="307.3" width="5.7" height="22.4" fill="#e6ae74" opacity="0.22"/>
<rect x="160.32" y="307.3" width="5.7" height="60.5" fill="#e6ae74" opacity="0.22"/>
<rect x="165.59" y="307.3" width="5.7" height="59.8" fill="#e6ae74" opacity="0.22"/>
<rect x="170.86" y="307.3" width="5.7" height="30.7" fill="#e6ae74" opacity="0.22"/>
<rect x="176.13" y="307.3" width="5.7" height="74.8" fill="#e6ae74" opacity="0.22"/>
<rect x="181.40" y="307.3" width="5.7" height="99.6" fill="#e6ae74" opacity="0.22"/>
<rect x="186.67" y="307.3" width="5.7" height="83.4" fill="#e6ae74" opacity="0.22"/>
<rect x="191.94" y="307.3" width="5.7" height="90.6" fill="#e6ae74" opacity="0.22"/>
<rect x="197.21" y="307.3" width="5.7" height="76.9" fill="#e6ae74" opacity="0.22"/>
<rect x="202.48" y="307.3" width="5.7" height="47.7" fill="#e6ae74" opacity="0.22"/>
<rect x="207.75" y="307.3" width="5.7" height="80.2" fill="#e6ae74" opacity="0.22"/>
<rect x="213.02" y="307.3" width="5.7" height="41.1" fill="#e6ae74" opacity="0.22"/>
<rect x="218.29" y="307.3" width="5.7" height="55.3" fill="#e6ae74" opacity="0.22"/>
<rect x="223.56" y="307.3" width="5.7" height="61.4" fill="#e6ae74" opacity="0.22"/>
<rect x="228.83" y="307.3" width="5.7" height="54.5" fill="#e6ae74" opacity="0.22"/>
<rect x="234.10" y="307.3" width="5.7" height="30.3" fill="#e6ae74" opacity="0.22"/>
<rect x="239.37" y="307.3" width="5.7" height="57.6" fill="#e6ae74" opacity="0.22"/>
<rect x="244.64" y="307.3" width="5.7" height="73.2" fill="#e6ae74" opacity="0.22"/>
<rect x="249.91" y="307.3" width="5.7" height="68.0" fill="#e6ae74" opacity="0.22"/>
<rect x="255.18" y="307.3" width="5.7" height="51.9" fill="#e6ae74" opacity="0.22"/>
<rect x="260.45" y="307.3" width="5.7" height="64.0" fill="#e6ae74" opacity="0.22"/>
<rect x="265.72" y="307.3" width="5.7" height="70.1" fill="#e6ae74" opacity="0.22"/>
<rect x="270.99" y="307.3" width="5.7" height="59.4" fill="#e6ae74" opacity="0.22"/>
<rect x="276.26" y="307.3" width="5.7" height="36.5" fill="#e6ae74" opacity="0.22"/>
<rect x="281.53" y="307.3" width="5.7" height="30.3" fill="#e6ae74" opacity="0.22"/>
<rect x="286.80" y="307.3" width="5.7" height="73.7" fill="#e6ae74" opacity="0.22"/>
<rect x="292.07" y="307.3" width="5.7" height="53.8" fill="#e6ae74" opacity="0.22"/>
<rect x="297.34" y="307.3" width="5.7" height="63.3" fill="#e6ae74" opacity="0.22"/>
<rect x="302.61" y="307.3" width="5.7" height="26.3" fill="#e6ae74" opacity="0.22"/>
<rect x="307.88" y="307.3" width="5.7" height="56.4" fill="#e6ae74" opacity="0.22"/>
<rect x="313.15" y="307.3" width="5.7" height="20.9" fill="#e6ae74" opacity="0.22"/>
<rect x="318.42" y="307.3" width="5.7" height="28.9" fill="#e6ae74" opacity="0.22"/>
<rect x="323.69" y="307.3" width="5.7" height="50.4" fill="#e6ae74" opacity="0.22"/>
<rect x="328.96" y="307.3" width="5.7" height="47.3" fill="#e6ae74" opacity="0.22"/>
<rect x="334.23" y="307.3" width="5.7" height="46.6" fill="#e6ae74" opacity="0.22"/>
<rect x="339.50" y="307.3" width="5.7" height="41.9" fill="#e6ae74" opacity="0.22"/>
<rect x="344.77" y="307.3" width="5.7" height="33.9" fill="#e6ae74" opacity="0.22"/>
<rect x="350.04" y="307.3" width="5.7" height="32.2" fill="#e6ae74" opacity="0.22"/>
<rect x="360.58" y="307.3" width="5.7" height="13.7" fill="#e6ae74" opacity="0.22"/>
<rect x="365.85" y="307.3" width="5.7" height="80.7" fill="#e6ae74" opacity="0.22"/>
<rect x="371.12" y="307.3" width="5.7" height="59.6" fill="#e6ae74" opacity="0.22"/>
<rect x="376.39" y="307.3" width="5.7" height="29.6" fill="#e6ae74" opacity="0.22"/>
<rect x="381.66" y="307.3" width="5.7" height="19.0" fill="#e6ae74" opacity="0.22"/>
<rect x="386.93" y="307.3" width="5.7" height="76.3" fill="#e6ae74" opacity="0.22"/>
<rect x="392.20" y="307.3" width="5.7" height="64.9" fill="#e6ae74" opacity="0.22"/>
<rect x="397.47" y="307.3" width="5.7" height="49.8" fill="#e6ae74" opacity="0.22"/>
<rect x="402.74" y="307.3" width="5.7" height="75.8" fill="#e6ae74" opacity="0.22"/>
<rect x="408.01" y="307.3" width="5.7" height="26.1" fill="#e6ae74" opacity="0.22"/>
<rect x="413.28" y="307.3" width="5.7" height="42.0" fill="#e6ae74" opacity="0.22"/>
<rect x="418.55" y="307.3" width="5.7" height="52.9" fill="#e6ae74" opacity="0.22"/>
<rect x="423.82" y="307.3" width="5.7" height="42.4" fill="#e6ae74" opacity="0.22"/>
<rect x="429.09" y="307.3" width="5.7" height="25.6" fill="#e6ae74" opacity="0.22"/>
<rect x="434.36" y="307.3" width="5.7" height="35.6" fill="#e6ae74" opacity="0.22"/>
<rect x="439.63" y="307.3" width="5.7" height="35.1" fill="#e6ae74" opacity="0.22"/>
<rect x="444.90" y="307.3" width="5.7" height="28.9" fill="#e6ae74" opacity="0.22"/>
<rect x="450.17" y="307.3" width="5.7" height="53.3" fill="#e6ae74" opacity="0.22"/>
<rect x="455.44" y="307.3" width="5.7" height="44.3" fill="#e6ae74" opacity="0.22"/>
<rect x="460.71" y="307.3" width="5.7" height="41.5" fill="#e6ae74" opacity="0.22"/>
<rect x="465.98" y="307.3" width="5.7" height="41.2" fill="#e6ae74" opacity="0.22"/>
<rect x="140.06" y="307.3" width="4.05" height="35.2" fill="#e6ae74"/>
<rect x="145.34" y="307.3" width="4.05" height="84.3" fill="#e6ae74"/>
<rect x="150.60" y="307.3" width="4.05" height="14.7" fill="#e6ae74"/>
<rect x="155.88" y="307.3" width="4.05" height="22.0" fill="#e6ae74"/>
<rect x="161.15" y="307.3" width="4.05" height="60.1" fill="#e6ae74"/>
<rect x="166.41" y="307.3" width="4.05" height="59.4" fill="#e6ae74"/>
<rect x="171.69" y="307.3" width="4.05" height="30.3" fill="#e6ae74"/>
<rect x="176.96" y="307.3" width="4.05" height="74.4" fill="#e6ae74"/>
<rect x="182.22" y="307.3" width="4.05" height="99.2" fill="#e6ae74"/>
<rect x="187.50" y="307.3" width="4.05" height="83.0" fill="#e6ae74"/>
<rect x="192.77" y="307.3" width="4.05" height="90.2" fill="#e6ae74"/>
<rect x="198.03" y="307.3" width="4.05" height="76.5" fill="#e6ae74"/>
<rect x="203.31" y="307.3" width="4.05" height="47.3" fill="#e6ae74"/>
<rect x="208.58" y="307.3" width="4.05" height="79.8" fill="#e6ae74"/>
<rect x="213.84" y="307.3" width="4.05" height="40.7" fill="#e6ae74"/>
<rect x="219.11" y="307.3" width="4.05" height="54.9" fill="#e6ae74"/>
<rect x="224.38" y="307.3" width="4.05" height="61.0" fill="#e6ae74"/>
<rect x="229.66" y="307.3" width="4.05" height="54.1" fill="#e6ae74"/>
<rect x="234.92" y="307.3" width="4.05" height="29.9" fill="#e6ae74"/>
<rect x="240.19" y="307.3" width="4.05" height="57.2" fill="#e6ae74"/>
<rect x="245.47" y="307.3" width="4.05" height="72.8" fill="#e6ae74"/>
<rect x="250.73" y="307.3" width="4.05" height="67.6" fill="#e6ae74"/>
<rect x="256.00" y="307.3" width="4.05" height="51.5" fill="#e6ae74"/>
<rect x="261.28" y="307.3" width="4.05" height="63.6" fill="#e6ae74"/>
<rect x="266.55" y="307.3" width="4.05" height="69.7" fill="#e6ae74"/>
<rect x="271.82" y="307.3" width="4.05" height="59.0" fill="#e6ae74"/>
<rect x="277.09" y="307.3" width="4.05" height="36.1" fill="#e6ae74"/>
<rect x="282.36" y="307.3" width="4.05" height="29.9" fill="#e6ae74"/>
<rect x="287.62" y="307.3" width="4.05" height="73.3" fill="#e6ae74"/>
<rect x="292.89" y="307.3" width="4.05" height="53.4" fill="#e6ae74"/>
<rect x="298.17" y="307.3" width="4.05" height="62.9" fill="#e6ae74"/>
<rect x="303.44" y="307.3" width="4.05" height="25.9" fill="#e6ae74"/>
<rect x="308.71" y="307.3" width="4.05" height="56.0" fill="#e6ae74"/>
<rect x="313.98" y="307.3" width="4.05" height="20.5" fill="#e6ae74"/>
<rect x="319.25" y="307.3" width="4.05" height="28.5" fill="#e6ae74"/>
<rect x="324.51" y="307.3" width="4.05" height="50.0" fill="#e6ae74"/>
<rect x="329.79" y="307.3" width="4.05" height="46.9" fill="#e6ae74"/>
<rect x="335.06" y="307.3" width="4.05" height="46.2" fill="#e6ae74"/>
<rect x="340.33" y="307.3" width="4.05" height="41.5" fill="#e6ae74"/>
<rect x="345.60" y="307.3" width="4.05" height="33.5" fill="#e6ae74"/>
<rect x="350.87" y="307.3" width="4.05" height="31.8" fill="#e6ae74"/>
<rect x="361.41" y="307.3" width="4.05" height="13.3" fill="#e6ae74"/>
<rect x="366.68" y="307.3" width="4.05" height="80.3" fill="#e6ae74"/>
<rect x="371.95" y="307.3" width="4.05" height="59.2" fill="#e6ae74"/>
<rect x="377.22" y="307.3" width="4.05" height="29.2" fill="#e6ae74"/>
<rect x="382.49" y="307.3" width="4.05" height="18.6" fill="#e6ae74"/>
<rect x="387.75" y="307.3" width="4.05" height="75.9" fill="#e6ae74"/>
<rect x="393.03" y="307.3" width="4.05" height="64.5" fill="#e6ae74"/>
<rect x="398.30" y="307.3" width="4.05" height="49.4" fill="#e6ae74"/>
<rect x="403.56" y="307.3" width="4.05" height="75.4" fill="#e6ae74"/>
<rect x="408.84" y="307.3" width="4.05" height="25.7" fill="#e6ae74"/>
<rect x="414.11" y="307.3" width="4.05" height="41.6" fill="#e6ae74"/>
<rect x="419.38" y="307.3" width="4.05" height="52.5" fill="#e6ae74"/>
<rect x="424.65" y="307.3" width="4.05" height="42.0" fill="#e6ae74"/>
<rect x="429.92" y="307.3" width="4.05" height="25.2" fill="#e6ae74"/>
<rect x="435.19" y="307.3" width="4.05" height="35.2" fill="#e6ae74"/>
<rect x="440.45" y="307.3" width="4.05" height="34.7" fill="#e6ae74"/>
<rect x="445.73" y="307.3" width="4.05" height="28.5" fill="#e6ae74"/>
<rect x="451.00" y="307.3" width="4.05" height="52.9" fill="#e6ae74"/>
<rect x="456.26" y="307.3" width="4.05" height="43.9" fill="#e6ae74"/>
<rect x="461.54" y="307.3" width="4.05" height="41.1" fill="#e6ae74"/>
<rect x="466.81" y="307.3" width="4.05" height="40.8" fill="#e6ae74"/>
<rect x="129.53" y="307.30" width="4.05" height="7.60" fill="#b5122f"/>
<rect x="134.80" y="300.30" width="4.05" height="7.00" fill="#253f7c"/>
<rect x="356.13" y="287.90" width="4.05" height="19.40" fill="#253f7c"/>
<rect x="472.07" y="300.40" width="4.05" height="6.90" fill="#253f7c"/>
<line x1="131.1" y1="307.3" x2="482.5" y2="307.3" stroke="#1a1a1a" stroke-width="1.15"/>
<line x1="479.6" y1="281.85" x2="479.6" y2="409.35" stroke="#000" stroke-width="1"/>
<text x="486" y="284.23" font-size="8.5" font-family="Liberation Sans, sans-serif">10</text>
<text x="486" y="297.04" font-size="8.5" font-family="Liberation Sans, sans-serif">5</text>
<text x="486" y="309.85" font-size="8.5" font-family="Liberation Sans, sans-serif">0</text>
<text x="486" y="322.66" font-size="8.5" font-family="Liberation Sans, sans-serif">-5</text>
<text x="486" y="335.48" font-size="8.5" font-family="Liberation Sans, sans-serif">-10</text>
<text x="486" y="348.29" font-size="8.5" font-family="Liberation Sans, sans-serif">-15</text>
<text x="486" y="361.10" font-size="8.5" font-family="Liberation Sans, sans-serif">-20</text>
<text x="486" y="373.91" font-size="8.5" font-family="Liberation Sans, sans-serif">-25</text>
<text x="486" y="386.73" font-size="8.5" font-family="Liberation Sans, sans-serif">-30</text>
<text x="486" y="399.54" font-size="8.5" font-family="Liberation Sans, sans-serif">-35</text>
<text x="486" y="412.35" font-size="8.5" font-family="Liberation Sans, sans-serif">-40</text>
<text transform="translate(504.35,308.65) rotate(90)" font-size="10.4" textLength="74.1" lengthAdjust="spacingAndGlyphs" font-family="Liberation Sans, sans-serif">MaxEntScan score</text>
<text x="7.5" y="16.7" font-size="12" font-weight="bold" font-family="Liberation Sans, sans-serif">A</text>
<text x="8.5" y="228.9" font-size="12" font-weight="bold" font-family="Liberation Sans, sans-serif">B</text>
<text x="8.5" y="440" font-size="12" font-weight="bold" font-family="Liberation Sans, sans-serif">C</text>
<text x="131.6" y="14.8" font-size="10.2" text-anchor="middle" font-family="Liberation Sans, sans-serif">Natural splice acceptor</text>
<text x="131.7" y="26.9" font-size="10.2" text-anchor="middle" font-family="Liberation Sans, sans-serif">MaxEntScan score = 5.66</text>
<text x="131.75" y="226.6" font-size="10.2" text-anchor="middle" font-family="Liberation Sans, sans-serif">Mutated splice acceptor</text>
<text x="131.75" y="238.9" font-size="10.2" text-anchor="middle" font-family="Liberation Sans, sans-serif">MaxEntScan score = -3.09</text>
<text x="358.5" y="226.6" font-size="10.2" text-anchor="middle" font-family="Liberation Sans, sans-serif">Best predicted alternative splice acceptor</text>
<text x="358" y="238.9" font-size="10.2" text-anchor="middle" font-family="Liberation Sans, sans-serif">MaxEntScan score = 7.55</text>
<defs>
<linearGradient id="gelbg" x1="0" y1="0" x2="0" y2="1"><stop offset="0" stop-color="#887771"/><stop offset="0.5" stop-color="#89786f"/><stop offset="1" stop-color="#86756c"/></linearGradient>
<linearGradient id="gelh" x1="0" y1="0" x2="1" y2="0"><stop offset="0" stop-color="#fff" stop-opacity="0.10"/><stop offset="0.25" stop-color="#fff" stop-opacity="0"/><stop offset="0.8" stop-color="#000" stop-opacity="0"/><stop offset="1" stop-color="#000" stop-opacity="0.05"/></linearGradient>
<filter id="b1" x="-30%" y="-80%" width="160%" height="260%"><feGaussianBlur stdDeviation="0.75"/></filter>
<filter id="b2" x="-30%" y="-80%" width="160%" height="260%"><feGaussianBlur stdDeviation="1.0"/></filter>
<filter id="b3" x="-30%" y="-80%" width="160%" height="260%"><feGaussianBlur stdDeviation="1.8"/></filter>
</defs>
<rect x="82.6" y="462" width="101" height="157.6" fill="url(#gelbg)"/>
<rect x="82.6" y="462" width="101" height="157.6" fill="url(#gelh)"/>
<rect x="85.4" y="467.7" width="15.6" height="4.6" rx="1.8" fill="#3e211a" opacity="0.95" filter="url(#b1)"/>
<rect x="165.6" y="467.7" width="15.6" height="4.6" rx="1.8" fill="#3e211a" opacity="0.95" filter="url(#b1)"/>
<rect x="85.4" y="495.0" width="15.6" height="3.8" rx="1.8" fill="#472820" opacity="0.9" filter="url(#b1)"/>
<rect x="165.6" y="495.0" width="15.6" height="3.8" rx="1.8" fill="#472820" opacity="0.9" filter="url(#b1)"/>
<rect x="85.4" y="535.3000000000001" width="15.6" height="3.8" rx="1.8" fill="#553428" opacity="0.7" filter="url(#b1)"/>
<rect x="165.6" y="535.3000000000001" width="15.6" height="3.8" rx="1.8" fill="#553428" opacity="0.7" filter="url(#b1)"/>
<rect x="85.4" y="593.7" width="15.6" height="3.8" rx="1.8" fill="#5f4538" opacity="0.5" filter="url(#b1)"/>
<rect x="165.6" y="593.7" width="15.6" height="3.8" rx="1.8" fill="#5f4538" opacity="0.5" filter="url(#b1)"/>
<rect x="182.7" y="462" width="0.9" height="157.6" fill="#6b5d5a" opacity="0.7"/>
<rect x="104" y="558" width="39.5" height="9.6" rx="4" fill="#3a2a28" opacity="0.55" filter="url(#b3)"/>
<rect x="104.6" y="559.5" width="18.4" height="7.3" rx="3.6" fill="#030202" filter="url(#b1)"/>
<rect x="123.9" y="559.5" width="18.7" height="7.3" rx="3.6" fill="#030202" filter="url(#b1)"/>
<rect x="106.8" y="570.9" width="13.4" height="3.4" rx="1.6" fill="#5b3b2e" opacity="0.85" filter="url(#b2)"/>
<text x="92.6" y="455.1" font-size="9" text-anchor="middle" font-family="Liberation Sans, sans-serif">L</text>
<text x="112.2" y="455.1" font-size="9" text-anchor="middle" font-family="Liberation Sans, sans-serif">Ca</text>
<text x="132.6" y="455.1" font-size="9" text-anchor="middle" font-family="Liberation Sans, sans-serif">Co</text>
<text x="152.6" y="455.1" font-size="9" text-anchor="middle" font-family="Liberation Sans, sans-serif">NT</text>
<text x="171.6" y="455.1" font-size="9" text-anchor="middle" font-family="Liberation Sans, sans-serif">L</text>
<text x="78.3" y="474.1" font-size="9" text-anchor="end" font-family="Liberation Sans, sans-serif">1000bp</text>
<text x="78.3" y="502.1" font-size="9" text-anchor="end" font-family="Liberation Sans, sans-serif">750bp</text>
<text x="78.3" y="540.6" font-size="9" text-anchor="end" font-family="Liberation Sans, sans-serif">500bp</text>
<text x="78.3" y="599.4" font-size="9" text-anchor="end" font-family="Liberation Sans, sans-serif">250bp</text>
<text x="19.1" y="565.7" font-size="9" font-family="Liberation Sans, sans-serif">379bp</text>
<line x1="51.5" y1="562.7" x2="75" y2="562.7" stroke="#000" stroke-width="1.1"/>
<path d="M79,562.7 L72.8,560 L74.4,562.7 L72.8,565.4 Z" fill="#000"/>
<rect x="0.5" y="0.5" width="519" height="626" fill="none" stroke="#111" stroke-width="1.4"/>
</svg>
</body></html>
